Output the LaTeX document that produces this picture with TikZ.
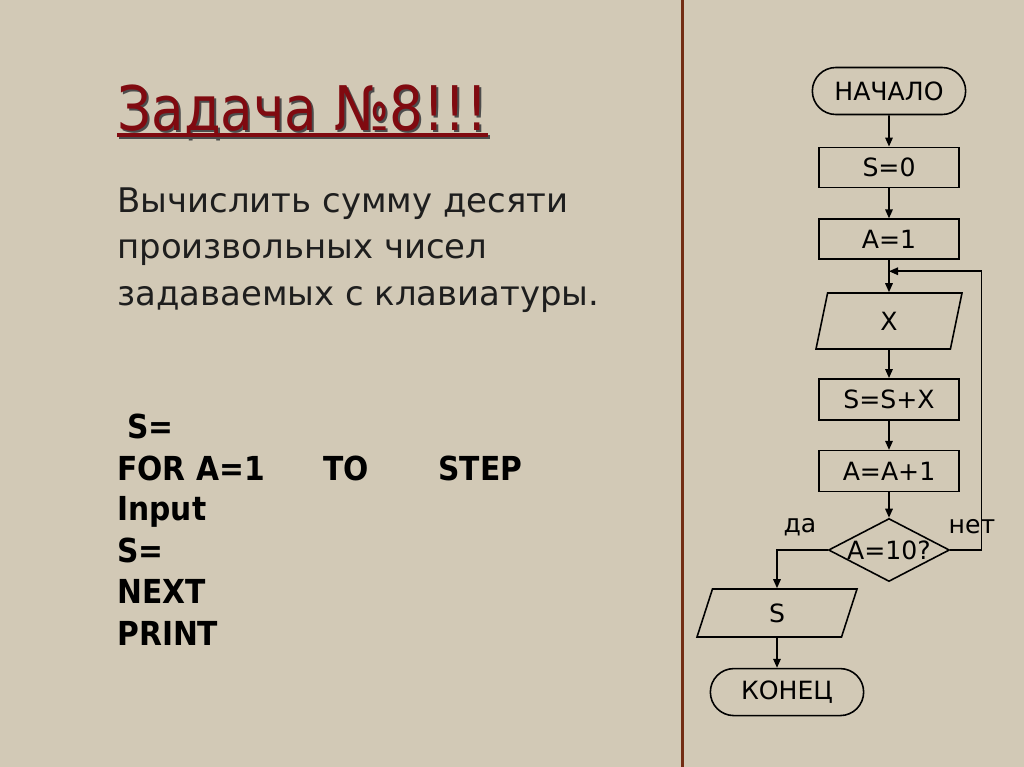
\documentclass[tikz,border=0pt]{standalone}
\usepackage{fontspec}
\setmainfont{DejaVu Sans}
\newfontfamily\slidefont[FakeStretch=0.9]{DejaVu Sans}
\newfontfamily\titlefont[FakeStretch=0.865]{DejaVu Sans}
\newfontfamily\chartfont{DejaVu Sans}
\usepackage{tikz}
\usetikzlibrary{shapes.misc,shapes.geometric,arrows.meta,positioning,calc}

\definecolor{linen}{RGB}{210,201,182}
\definecolor{titlered}{RGB}{128,10,16}
\definecolor{divider}{RGB}{115,45,20}
\definecolor{bodyink}{RGB}{30,30,30}

\begin{document}
\begin{tikzpicture}[x=0.2mm,y=-0.2mm,
    >={Triangle[length=1.8mm,width=1.5mm]},
    every node/.style={font=\chartfont\fontsize{14.3}{17}\selectfont},
    flow/.style={draw,line width=0.9pt},
    terminal/.style={flow,rounded rectangle,minimum width=33mm,minimum height=9.4mm},
    process/.style={flow,rectangle,minimum width=28mm,minimum height=8mm},
    io/.style={flow,trapezium,trapezium stretches body,inner sep=1pt},
    decision/.style={flow,diamond,aspect=1.92,inner sep=0pt,minimum width=24.2mm,minimum height=12.6mm},
    slidetext/.style={inner sep=0pt,anchor=base west,text=bodyink,
      font=\chartfont\fontsize{19.3}{23}\selectfont},
    codetext/.style={inner sep=0pt,anchor=base west,text=black,
      font=\slidefont\bfseries\fontsize{18.8}{23}\selectfont}]

  \useasboundingbox (0,0) rectangle (1024,767);
  \fill[linen] (0,0) rectangle (1024,767);

  % slide divider
  \draw[divider,line width=0.6mm] (682,0) -- (682,767);

  % title
  \node (titleShadow)
        [inner sep=0pt,anchor=base west,text=black!70,
         font=\titlefont\fontsize{35}{40}\selectfont]
        at (119,132) {Задача №8!!!};
  \node (title)
        [inner sep=0pt,anchor=base west,text=titlered,
         font=\titlefont\fontsize{35}{40}\selectfont]
        at (117,130) {Задача №8!!!};
  \fill[black!70] (119,135) rectangle (490,139);
  \fill[titlered] (117,133) rectangle (488,137);

  % task
  \node (taskA) [slidetext] at (117,212) {Вычислить сумму десяти};
  \node (taskB) [slidetext] at (117,258) {произвольных чисел};
  \node (taskC) [slidetext] at (117,305) {задаваемых с клавиатуры.};

  % program skeleton
  \node (codeInit)  [codetext] at (127,438) {S=};
  \node (codeFor)   [codetext] at (117,480) {FOR A=1};
  \node (codeTo)    [codetext] at (323,480) {TO};
  \node (codeStep)  [codetext] at (438,480) {STEP};
  \node (codeInput) [codetext] at (117,520) {Input};
  \node (codeSum)   [codetext] at (117,562) {S=};
  \node (codeNext)  [codetext] at (117,603) {NEXT};
  \node (codePrint) [codetext] at (117,645) {PRINT};

  % flowchart
  \node (start)
        [terminal]
        at (889,91) {НАЧАЛО};
  \node (setS)
        [process,below=6.25mm of start]
        {S=0};
  \node (setA)
        [process,below=6.05mm of setS]
        {A=1};
  \node (readX)
        [io,trapezium left angle=62,trapezium right angle=118,
         minimum width=29.2mm,minimum height=11.2mm,below=6.45mm of setA]
        {X};
  \node (addX)
        [process,minimum height=8.2mm,below=5.65mm of readX]
        {S=S+X};
  \node (incA)
        [process,minimum height=8.2mm,below=5.85mm of addX]
        {A=A+1};
  \node (check)
        [decision,below=5.05mm of incA]
        {A=10?};
  \node (printS)
        [io,trapezium left angle=55.5,trapezium right angle=124.5,
         minimum width=32mm,minimum height=9.6mm]
        at (777,613) {S};
  \node (stop)
        [terminal,below=6mm of printS,xshift=2mm]
        {КОНЕЦ};

  \node (yesLbl) at (800,527) {да};
  \node (noLbl)  at (972,527) {нет};

  \coordinate (loopIn) at ($(setA.south)!0.35!(readX.north)$);

      \draw[flow,->] (start) -- (setS);
      \draw[flow,->] (setS) -- (setA);
  \draw[flow,->] (setA) -- (readX);
  \draw[flow,->] (readX) -- (addX);
  \draw[flow,->] (addX) -- (incA);
  \draw[flow,->] (incA) -- (check);
  \draw[flow,->] (check.east) -- ++(31,0) |- (loopIn);
  \draw[flow,->] (check.west) -| (printS.north);
  \draw[flow,->] (printS.south) -- (printS.south |- stop.north);
\end{tikzpicture}
\end{document}
